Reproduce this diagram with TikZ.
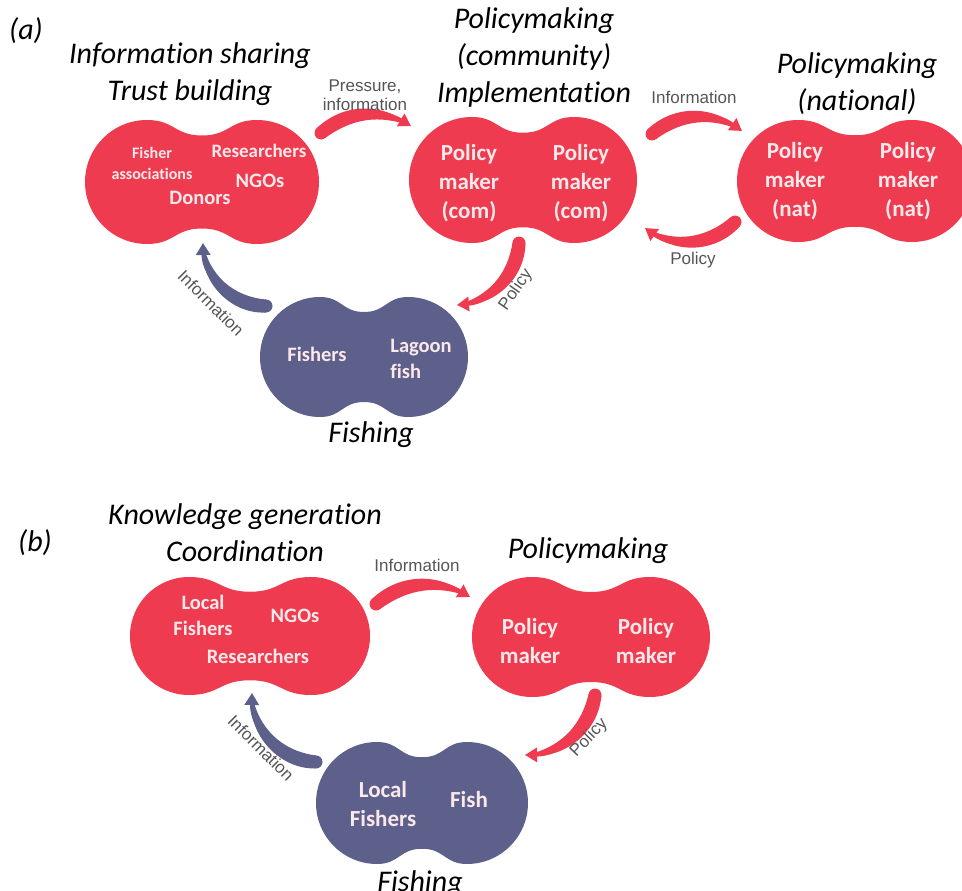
\documentclass[tikz,border=0pt]{standalone}
\usepackage{fontspec}
\setmainfont{Carlito}[Ligatures=NoCommon]
\newfontfamily\labelfont{Liberation Sans}
\usetikzlibrary{calc,arrows.meta}

\definecolor{blobred}{RGB}{239,59,79}
\definecolor{blobblue}{RGB}{93,96,138}
\definecolor{blobtext}{RGB}{250,232,234}
\definecolor{labelgrey}{RGB}{85,85,85}

% peanut shaped cluster: half width, half height, colour
\tikzset{
  pics/blob/.style n args={3}{code={
    \pgfmathsetmacro\lobe{#1-#2}
    \pgfmathsetmacro\kap{0.5523*#2}
    \pgfmathsetmacro\waist{0.75*#2}
    \fill[#3] (0,\waist) .. controls (0.5*\lobe,\waist) and (0.5*\lobe,#2) .. (\lobe,#2)
      .. controls (\lobe+\kap,#2) and (#1,\kap) .. (#1,0)
      .. controls (#1,-\kap) and (\lobe+\kap,-#2) .. (\lobe,-#2)
      .. controls (0.5*\lobe,-#2) and (0.5*\lobe,-\waist) .. (0,-\waist)
      .. controls (-0.5*\lobe,-\waist) and (-0.5*\lobe,-#2) .. (-\lobe,-#2)
      .. controls (-\lobe-\kap,-#2) and (-#1,-\kap) .. (-#1,0)
      .. controls (-#1,\kap) and (-\lobe-\kap,#2) .. (-\lobe,#2)
      .. controls (-0.5*\lobe,#2) and (-0.5*\lobe,\waist) .. (0,\waist) -- cycle;
  }}
}

% tapered curved arrow: colour, tail, tip, bend angle
\newcommand{\flowarrow}[4]{%
  \pgfmathsetmacro\outbend{#4+7}
  \pgfmathsetmacro\inbend{#4-7}
  \pgfmathsetmacro\sidea{90+#4}
  \pgfmathsetmacro\sideb{#4-90}
  \fill[#1] ($(#2)!6.5pt!\sidea:(#3)$) to[bend left=\outbend] (#3) to[bend right=\inbend] ($(#2)!6.5pt!\sideb:(#3)$) -- cycle;
  \fill[#1] (#2) circle[radius=6.5pt];
  \draw[#1, line width=3.5pt, -{Triangle[length=12pt,width=14pt]}] (#2) to[bend left=#4] (#3);
}

\begin{document}
\begin{tikzpicture}[x=1pt, y=-1pt,
    heading/.style={font=\fontsize{30}{37}\selectfont\itshape, align=center, inner sep=0pt},
    inner/.style={text=blobtext, font=\fontsize{23}{29}\selectfont\bfseries, align=center, inner sep=0pt},
    innermid/.style={inner, font=\fontsize{20.5}{26}\selectfont\bfseries},
    innersmall/.style={inner, font=\fontsize{16}{21}\selectfont\bfseries},
    flowlabel/.style={text=labelgrey, font=\labelfont\fontsize{17}{19}\selectfont, align=center, inner sep=0pt}
  ]
  \useasboundingbox (0,0) rectangle (962,891);

  % ---- (a) ----
  \node[heading] (taga) at (26,31) {(a)};
  \node[heading] (sharehead) at (190,74) {Information sharing\\Trust building};
  \node[heading] (comhead) at (534,58) {Policymaking\\(community)\\Implementation};
  \node[heading] (nathead) at (857,84) {Policymaking\\(national)};
  \node[heading] (fishhead) at (371,435) {Fishing};

  \coordinate (share) at (202,182);
  \coordinate (com) at (523,180);
  \coordinate (nat) at (855,181);
  \coordinate (fish) at (364,357);
  \pic at (share) {blob={117}{62}{blobred}};
  \pic at (com) {blob={114}{63}{blobred}};
  \pic at (nat) {blob={118}{61}{blobred}};
  \pic at (fish) {blob={104}{60}{blobblue}};

  \node[innersmall] (assoc) at (152,163) {Fisher\\associations};
  \node[inner, font=\fontsize{19}{24}\selectfont\bfseries] (resa) at (259,151) {Researchers};
  \node[innermid] (ngoa) at (260,181) {NGOs};
  \node[innermid] (donor) at (200,198) {Donors};

  \node[inner] (comleft) at (469,183) {Policy\\maker\\(com)};
  \node[inner] (comright) at (581,183) {Policy\\maker\\(com)};
  \node[inner] (natleft) at (795,181) {Policy\\maker\\(nat)};
  \node[inner] (natright) at (908,181) {Policy\\maker\\(nat)};

  \node[innermid] (fishers) at (317,354) {Fishers};
  \node[innermid, align=left] (lagoon) at (421,359) {Lagoon\\fish};

  \coordinate (press-s) at (321,133);
  \coordinate (press-e) at (411,126);
  \flowarrow{blobred}{press-s}{press-e}{35}
  \node[flowlabel] (presslbl) at (365,95) {Pressure,\\information};

  \coordinate (infoa-s) at (652,134);
  \coordinate (infoa-e) at (742,131);
  \flowarrow{blobred}{infoa-s}{infoa-e}{37}
  \node[flowlabel] (infoalbl) at (694,97) {Information};

  \coordinate (pola-s) at (735,222);
  \coordinate (pola-e) at (645,228);
  \flowarrow{blobred}{pola-s}{pola-e}{40}
  \node[flowlabel] (polalbl) at (693,260) {Policy};

  \coordinate (polb-s) at (519,243);
  \coordinate (polb-e) at (457,305);
  \flowarrow{blobred}{polb-s}{polb-e}{40}
  \node[flowlabel, rotate=55] (polblbl) at (516,290) {Policy};

  \coordinate (infob-s) at (266,306);
  \coordinate (infob-e) at (203,243);
  \flowarrow{blobblue}{infob-s}{infob-e}{44}
  \node[flowlabel, rotate=-45] (infoblbl) at (211,303) {Information};

  % ---- (b) ----
  \node[heading] (tagb) at (35,543) {(b)};
  \node[heading] (knowhead) at (245,533) {Knowledge generation\\Coordination};
  \node[heading] (polhead) at (588,551) {Policymaking};
  \node[heading] (fishheadb) at (420,884) {Fishing};

  \coordinate (local) at (250,636);
  \coordinate (maker) at (591,637);
  \coordinate (catch) at (422,803);
  \pic at (local) {blob={120}{59}{blobred}};
  \pic at (maker) {blob={119}{60}{blobred}};
  \pic at (catch) {blob={106}{61}{blobblue}};

  \node[innermid] (localb) at (203,615) {Local\\Fishers};
  \node[innermid] (ngob) at (295,616) {NGOs};
  \node[innermid] (resb) at (258,656) {Researchers};

  \node[inner] (makerleft) at (530,641) {Policy\\maker};
  \node[inner] (makerright) at (646,641) {Policy\\maker};

  \node[inner] (localc) at (383,804) {Local\\Fishers};
  \node[inner] (fishc) at (469,800) {Fish};

  \coordinate (infoc-s) at (376,604);
  \coordinate (infoc-e) at (470,597);
  \flowarrow{blobred}{infoc-s}{infoc-e}{35}
  \node[flowlabel] (infoclbl) at (417,565) {Information};

  \coordinate (polc-s) at (595,695);
  \coordinate (polc-e) at (525,755);
  \flowarrow{blobred}{polc-s}{polc-e}{40}
  \node[flowlabel, rotate=46] (polclbl) at (589,738) {Policy};

  \coordinate (infod-s) at (316,762);
  \coordinate (infod-e) at (252,693);
  \flowarrow{blobblue}{infod-s}{infod-e}{44}
  \node[flowlabel, rotate=-45] (infodlbl) at (261,748) {Information};
\end{tikzpicture}
\end{document}
